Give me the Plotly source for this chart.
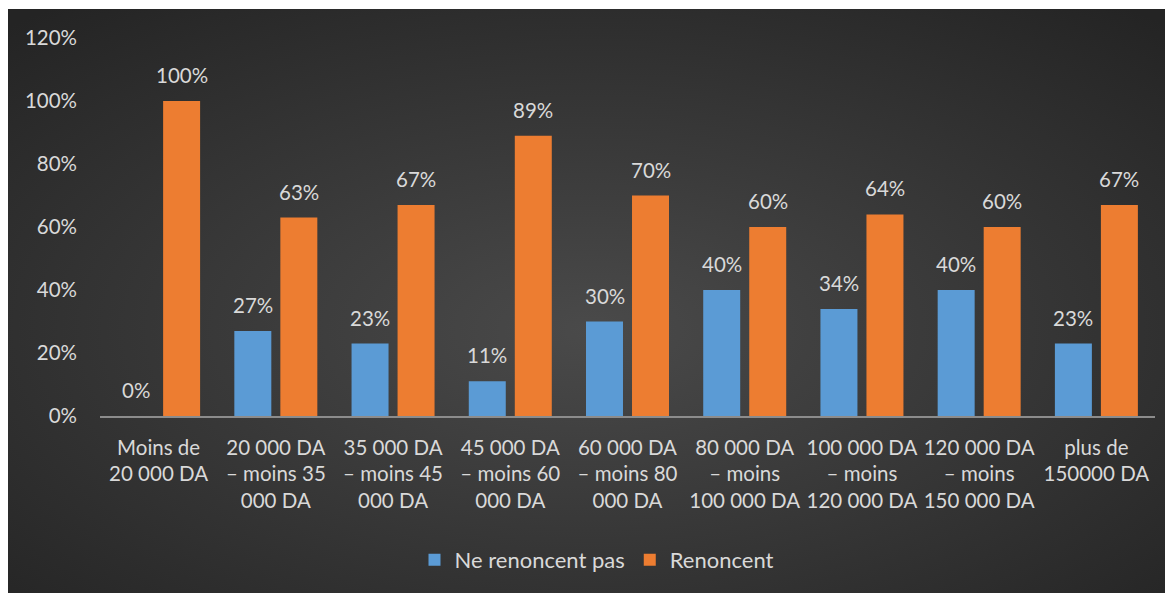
import base64
import plotly.graph_objects as go

categories = [
    "Moins de<br>20 000 DA",
    "20 000 DA<br>– moins 35<br>000 DA",
    "35 000 DA<br>– moins 45<br>000 DA",
    "45 000 DA<br>– moins 60<br>000 DA",
    "60 000 DA<br>– moins 80<br>000 DA",
    "80 000 DA<br>– moins<br>100 000 DA",
    "100 000 DA<br>– moins<br>120 000 DA",
    "120 000 DA<br>– moins<br>150 000 DA",
    "plus de<br>150000 DA",
]
ne_renoncent_pas = [0, 27, 23, 11, 30, 40, 34, 40, 23]
renoncent = [100, 63, 67, 89, 70, 60, 64, 60, 67]
series_names = ["Ne renoncent pas", "Renoncent"]
tick_vals = [0, 20, 40, 60, 80, 100, 120]
tick_text = [f"{v}%" for v in tick_vals]

# page body has an 8px margin, so the figure sits at (8, 8)
W, H = 1165, 585
L, R, T, B = 92, 18, 30, 177
pw, ph = W - L - R, H - T - B

svg = (
    '<svg xmlns="http://www.w3.org/2000/svg" width="1166" height="584" preserveAspectRatio="none">'
    '<defs><radialGradient id="g" cx="50%" cy="55%" r="72%">'
    '<stop offset="0%" stop-color="#4a4a4a"/>'
    '<stop offset="100%" stop-color="#242424"/>'
    '</radialGradient></defs>'
    '<rect width="1166" height="584" fill="url(#g)"/></svg>'
)
bg_src = "data:image/svg+xml;base64," + base64.b64encode(svg.encode()).decode()

FONT = "Lato"
TXT = "#d9d9d9"
FS = 20.5

fig = go.Figure()
fig.add_trace(go.Bar(
    x=categories, y=ne_renoncent_pas, name=series_names[0],
    marker=dict(color="#5b9bd5", line=dict(width=0)),
))
fig.add_trace(go.Bar(
    x=categories, y=renoncent, name=series_names[1],
    marker=dict(color="#ed7d31", line=dict(width=0)),
))

for vals, shift in ((ne_renoncent_pas, -23), (renoncent, 23)):
    for c, v in zip(categories, vals):
        fig.add_annotation(
            x=c, y=v, xref="x", yref="y", text=f"{v}%", showarrow=False,
            xshift=shift, yshift=12, yanchor="bottom",
            font=dict(family=FONT, size=FS, color=TXT),
        )

fig.add_layout_image(
    source=bg_src, xref="paper", yref="paper",
    x=(-1 - L) / pw, y=1 + (T - 1) / ph,
    sizex=(W + 1) / pw, sizey=(H - 1) / ph,
    xanchor="left", yanchor="top", sizing="stretch", layer="below",
)

fig.update_layout(
    width=W, height=H,
    margin=dict(l=L, r=R, t=T, b=B),
    paper_bgcolor="white",
    plot_bgcolor="rgba(0,0,0,0)",
    barmode="group", bargap=0.215, bargroupgap=0.196,
    font=dict(family=FONT, size=FS, color=TXT),
    showlegend=True,
    legend=dict(
        orientation="h", x=(589 - L) / pw, xanchor="center",
        y=(408 - 552) / ph, yanchor="middle",
        font=dict(family=FONT, size=22, color=TXT),
        bgcolor="rgba(0,0,0,0)", itemsizing="constant",
    ),
)
fig.update_xaxes(
    showgrid=False, showline=True, linecolor="#8c8c8c", linewidth=2,
    ticks="", tickfont=dict(family=FONT, size=FS, color=TXT), tickangle=0,
    ticklabelstandoff=12,
)
fig.update_yaxes(
    range=[0, 120], tickvals=tick_vals, ticktext=tick_text,
    showgrid=False, zeroline=False, showline=False, ticks="",
    ticklabelstandoff=22,
    tickfont=dict(family=FONT, size=FS, color=TXT),
)

fig.write_html("out.html")
